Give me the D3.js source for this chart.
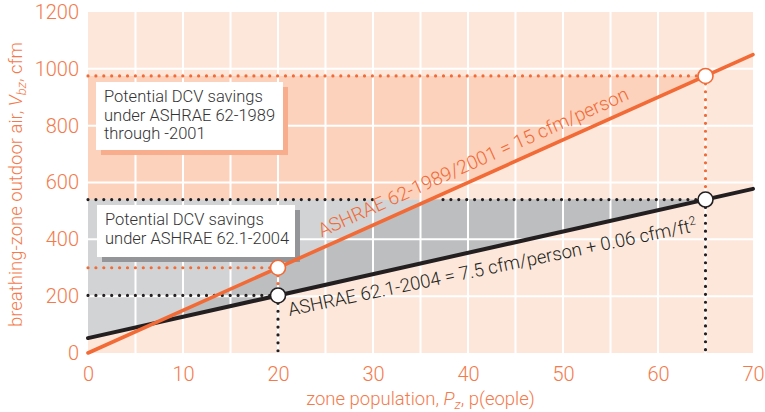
<!DOCTYPE html>
<html><head><meta charset="utf-8">
<script src="https://cdn.jsdelivr.net/npm/d3@7/dist/d3.min.js"></script>
<style>
body{margin:0;background:#fff;}
text{font-family:Roboto,"Liberation Sans",sans-serif;}
</style></head>
<body><svg id="c" width="765" height="412"></svg>
<script>
// Data
const xTicks = [0,10,20,30,40,50,60,70];
const yTicks = [0,200,400,600,800,1000,1200];
const xGrid = [5,10,15,20,25,30,35,40,45,50,55,60,65];
const yGrid = [200,400,600,800,1000];
const population = [0, 70];
const ashrae1989 = [0, 1050];          // 15 cfm/person
const ashrae2004 = [52.5, 577.5];      // 7.5 cfm/person + 0.06 cfm/ft2
const designPop = [20, 65];
const design1989 = [300, 975];
const design2004 = [202.5, 540];
const legend1 = ["Potential DCV savings","under ASHRAE 62-1989","through -2001"];
const legend2 = ["Potential DCV savings","under ASHRAE 62.1-2004"];

const ORANGE="#f26a36", TXT_OR="#f47a4c", DARK="#231f20";
const svg = d3.select("#c");
const x = d3.scaleLinear([0,70],[88,753]);
const y = d3.scaleLinear([0,1200],[353,12]);
const f1989 = p => ashrae1989[0] + (ashrae1989[1]-ashrae1989[0])*(p-population[0])/(population[1]-population[0]);
const f2004 = p => ashrae2004[0] + (ashrae2004[1]-ashrae2004[0])*(p-population[0])/(population[1]-population[0]);
const inv1989 = v => population[0] + (v-ashrae1989[0])*(population[1]-population[0])/(ashrae1989[1]-ashrae1989[0]);

// background
svg.append("rect").attr("x",x(0)).attr("y",y(1200)).attr("width",x(70)-x(0)).attr("height",y(0)-y(1200)).attr("fill","#fde7db");

const line = d3.line().x(d=>x(d[0])).y(d=>y(d[1]));
const capHi = design1989[1], capLo = design2004[1], pEnd = designPop[1];
svg.append("path").attr("d", line([[0,capHi],[pEnd,capHi],[inv1989(capLo),capLo],[0,capLo]])+"Z").attr("fill","#fcd2bc");
svg.append("path").attr("d", line([[0,capLo],[pEnd,capLo],[pEnd,f2004(pEnd)],[0,f2004(0)]])+"Z").attr("fill","#d1d3d4");
const px = (ashrae2004[0]-ashrae1989[0])/((ashrae1989[1]-ashrae1989[0])-(ashrae2004[1]-ashrae2004[0]))*(population[1]-population[0]);
svg.append("path").attr("d", line([[px,f1989(px)],[inv1989(capLo),capLo],[pEnd,capLo],[pEnd,f2004(pEnd)]])+"Z").attr("fill","#bcbec0");

// grid
svg.append("g").selectAll("line").data(xGrid).join("line")
  .attr("x1",d=>x(d)).attr("x2",d=>x(d)).attr("y1",y(0)).attr("y2",y(1200))
  .attr("stroke","#fff").attr("stroke-width",2);
svg.append("g").selectAll("line").data(yGrid).join("line")
  .attr("y1",d=>y(d)).attr("y2",d=>y(d)).attr("x1",x(0)).attr("x2",x(70))
  .attr("stroke","#fff").attr("stroke-width",2);

// dotted guides
function dots(pts,color){
  svg.append("path").attr("d",line(pts)).attr("fill","none").attr("stroke",color)
   .attr("stroke-width",3.2).attr("stroke-linecap","round").attr("stroke-dasharray","0 7.9");
}
designPop.forEach((p,i)=>{
  dots([[0,design1989[i]],[p,design1989[i]]],ORANGE);
  dots([[p,design1989[i]],[p,design2004[i]]],ORANGE);
  dots([[p,design2004[i]],[p,0]],DARK);
  if(i===0){
    dots([[0,design2004[i]],[p,design2004[i]]],DARK);
  } else {
    const xc = inv1989(design2004[i]);
    const gapL = x.invert(x(xc)-57), gapR = x.invert(x(xc)+13);
    dots([[0,design2004[i]],[gapL,design2004[i]]],DARK);
    dots([[gapR,design2004[i]],[p,design2004[i]]],DARK);
  }
});

// legend boxes
function box(x0,y0,w,h,shadow,lines){
  svg.append("rect").attr("x",x0+5).attr("y",y0+5).attr("width",w).attr("height",h).attr("fill",shadow);
  svg.append("rect").attr("x",x0).attr("y",y0).attr("width",w).attr("height",h).attr("fill","#fff");
  const t = svg.append("text").attr("fill","#333").attr("font-size",16.5).attr("font-weight",300);
  lines.forEach((s,i)=>t.append("tspan").attr("x",x0+8).attr("y",y0+20+i*18.5).text(s));
}
box(96,82,187,68,"#f8ad8d",legend1);
box(97,205,198,52,"#939598",legend2);

// lines
svg.append("path").attr("d",line([[population[0],ashrae2004[0]],[population[1],ashrae2004[1]]]))
  .attr("stroke",DARK).attr("stroke-width",4).attr("fill","none").attr("stroke-linecap","round");
svg.append("path").attr("d",line([[population[0],ashrae1989[0]],[population[1],ashrae1989[1]]]))
  .attr("stroke",ORANGE).attr("stroke-width",3.6).attr("fill","none").attr("stroke-linecap","round");

// line labels
function angle(f){ return Math.atan2(y(f(70))-y(f(0)), x(70)-x(0))*180/Math.PI; }
svg.append("text").attr("transform",`translate(${x(24.6)},${y(f1989(24.6))-11}) rotate(${angle(f1989)})`)
  .attr("fill",ORANGE).attr("font-size",19).attr("font-weight",300).text("ASHRAE 62-1989/2001 = 15 cfm/person");
const lb = svg.append("text").attr("transform",`translate(${x(21.2)},${y(f2004(21.2))+23}) rotate(${angle(f2004)*0.93})`)
  .attr("fill",DARK).attr("font-size",18.5).attr("font-weight",300);
lb.append("tspan").text("ASHRAE 62.1-2004 = 7.5 cfm/person + 0.06 cfm/ft");
lb.append("tspan").attr("dy",-7).attr("font-size",12).text("2");

// points
svg.append("g").selectAll("circle").data(designPop).join("circle")
  .attr("cx",d=>x(d)).attr("cy",(d,i)=>y(design1989[i])).attr("r",7.5)
  .attr("fill","#fff").attr("stroke",ORANGE).attr("stroke-width",1.6);
svg.append("g").selectAll("circle").data(designPop).join("circle")
  .attr("cx",d=>x(d)).attr("cy",(d,i)=>y(design2004[i])).attr("r",7.5)
  .attr("fill","#fff").attr("stroke",DARK).attr("stroke-width",1.6);

// axes
const ax = svg.append("g").attr("transform",`translate(0,${y(0)})`)
  .call(d3.axisBottom(x).tickValues(xTicks).tickSize(0).tickPadding(14));
const ay = svg.append("g").attr("transform",`translate(${x(0)},0)`)
  .call(d3.axisLeft(y).tickValues(yTicks).tickFormat(d3.format("d")).tickSize(0).tickPadding(9));
[ax,ay].forEach(a=>{
  a.select(".domain").remove();
  a.selectAll("text").attr("fill",TXT_OR).attr("font-size",20).attr("font-weight",300)
   .attr("font-family","Roboto,'Liberation Sans',sans-serif");
});

// axis titles
const xt = svg.append("text").attr("x",x(35)).attr("y",405).attr("text-anchor","middle")
  .attr("fill",TXT_OR).attr("font-size",18.5).attr("font-weight",300);
xt.append("tspan").text("zone population, ");
xt.append("tspan").attr("font-style","italic").text("P");
xt.append("tspan").attr("font-style","italic").attr("font-size",13).attr("dy",4).text("z");
xt.append("tspan").attr("dy",-4).text(", p(eople)");

const yt = svg.append("text").attr("transform",`translate(22,${(y(0)+y(1200))/2+2}) rotate(-90)`)
  .attr("text-anchor","middle").attr("fill",TXT_OR).attr("font-size",18.5).attr("font-weight",300);
yt.append("tspan").text("breathing-zone outdoor air, ");
yt.append("tspan").attr("font-style","italic").text("V");
yt.append("tspan").attr("font-style","italic").attr("font-size",13).attr("dy",4).text("bz");
yt.append("tspan").attr("dy",-4).text(", cfm");
</script></body></html>
